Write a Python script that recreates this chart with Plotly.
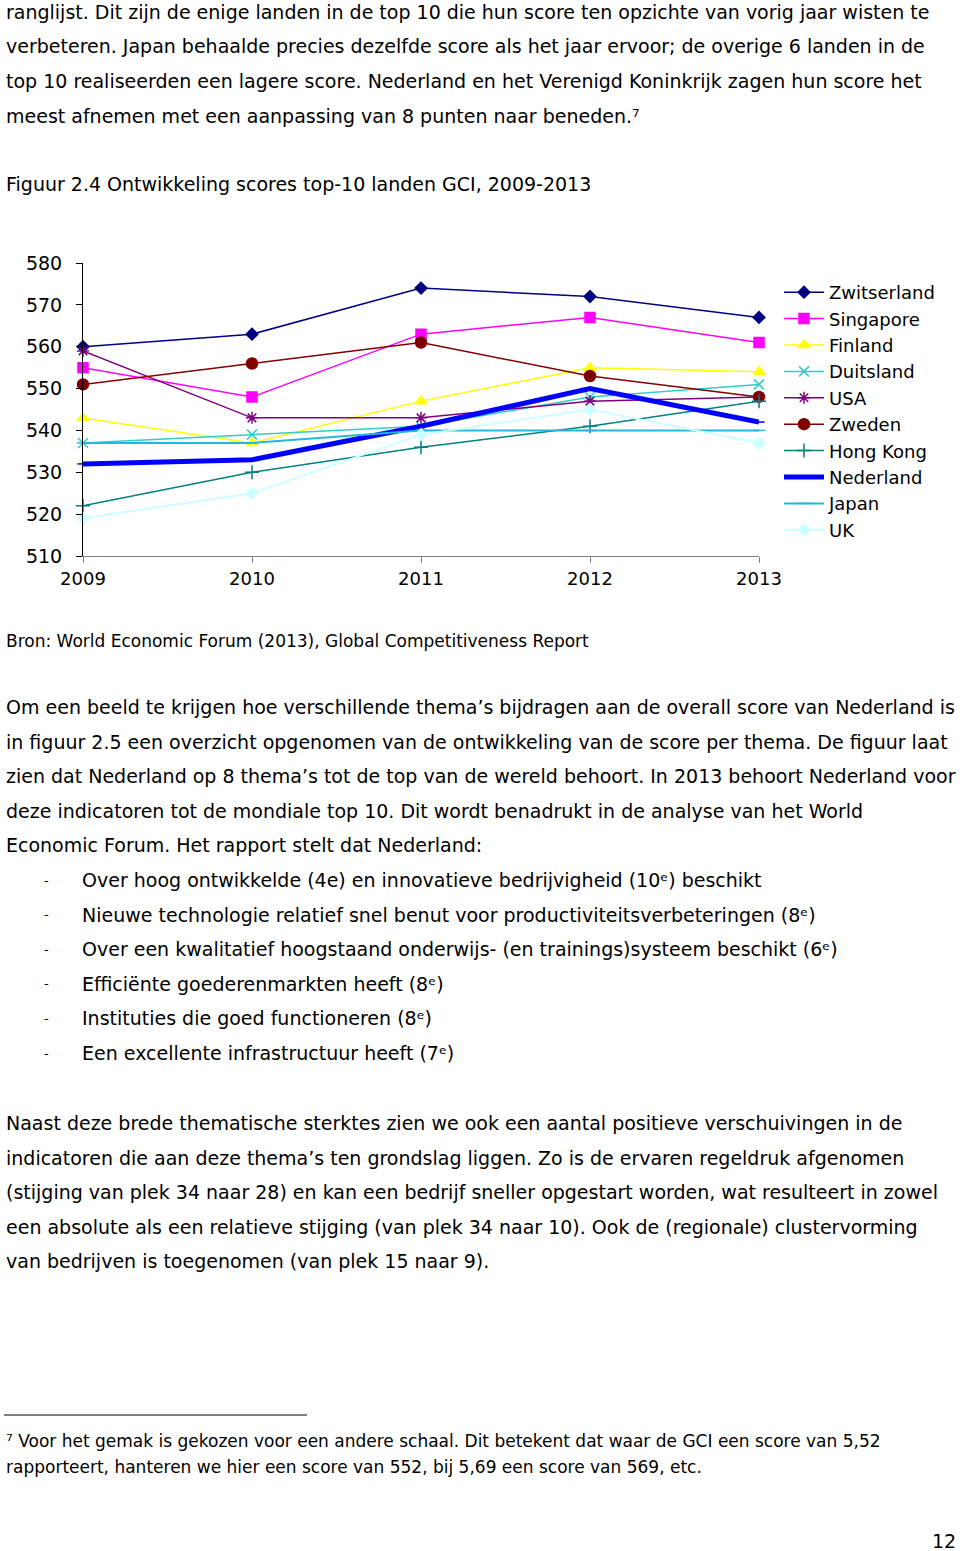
import plotly.graph_objects as go

W, H = 960, 1551

years = [2009, 2010, 2011, 2012, 2013]
countries = ["Zwitserland", "Singapore", "Finland", "Duitsland", "USA",
             "Zweden", "Hong Kong", "Nederland", "Japan", "UK"]
zwitserland = [560, 563, 574, 572, 567]
singapore = [555, 548, 563, 567, 561]
finland = [543, 537, 547, 555, 554]
duitsland = [537, 539, 541, 548, 551]
usa = [559, 543, 543, 547, 548]
zweden = [551, 556, 561, 553, 548]
hongkong = [522, 530, 536, 541, 547]
nederland = [532, 533, 541, 550, 542]
japan = [537, 537, 540, 540, 540]
uk = [519, 525, 539, 545, 537]
y_ticks = [510, 520, 530, 540, 550, 560, 570, 580]

series = [zwitserland, singapore, finland, duitsland, usa,
          zweden, hongkong, nederland, japan, uk]
colors = ["#000080", "#FF00FF", "#FFFF00", "#33CCCC", "#800080",
          "#800000", "#008080", "#0000FF", "#22B8DD", "#CCFFFF"]
symbols = ["diamond", "square", "triangle-up", "x-thin-open", "asterisk-open",
           "circle", "cross-thin-open", "line-ew-open", "line-ew-open", "diamond"]
msizes = [9, 10, 10, 10, 10, 11, 10, 8, 9, 9]
lwidths = [1.5, 1.5, 1.5, 1.5, 1.5, 1.5, 1.5, 5, 2, 2]

fig = go.Figure()
for name, vals, c, s, ms, lw in zip(countries, series, colors, symbols, msizes, lwidths):
    fig.add_trace(go.Scatter(
        x=years, y=vals, name=name, mode="lines+markers", cliponaxis=False,
        line=dict(color=c, width=lw),
        marker=dict(symbol=s, size=ms, color=c, line=dict(color=c, width=1.5)),
    ))

def py(p):
    return 1 - p / H

body = "DejaVu Sans"
fs = 19

annotations = []
def txt(x, y, t, size=fs, anchor="left"):
    annotations.append(dict(x=x / W, y=py(y), xref="paper", yref="paper", text=t,
                            showarrow=False, xanchor=anchor, yanchor="middle",
                            font=dict(family=body, size=size, color="#000000")))

top_lines = [
    "ranglijst. Dit zijn de enige landen in de top 10 die hun score ten opzichte van vorig jaar wisten te",
    "verbeteren. Japan behaalde precies dezelfde score als het jaar ervoor; de overige 6 landen in de",
    "top 10 realiseerden een lagere score. Nederland en het Verenigd Koninkrijk zagen hun score het",
    "meest afnemen met een aanpassing van 8 punten naar beneden.⁷",
]
for i, t in enumerate(top_lines):
    txt(4, 12 + i * 34.5, t)
txt(4, 184, "Figuur 2.4 Ontwikkeling scores top-10 landen GCI, 2009-2013")
txt(4, 641, "Bron: World Economic Forum (2013), Global Competitiveness Report", size=17)

para1 = [
    "Om een beeld te krijgen hoe verschillende thema’s bijdragen aan de overall score van Nederland is",
    "in figuur 2.5 een overzicht opgenomen van de ontwikkeling van de score per thema. De figuur laat",
    "zien dat Nederland op 8 thema’s tot de top van de wereld behoort. In 2013 behoort Nederland voor",
    "deze indicatoren tot de mondiale top 10. Dit wordt benadrukt in de analyse van het World",
    "Economic Forum. Het rapport stelt dat Nederland:",
]
for i, t in enumerate(para1):
    txt(4, 707 + i * 34.6, t)

bullets = [
    "Over hoog ontwikkelde (4e) en innovatieve bedrijvigheid (10ᵉ) beschikt",
    "Nieuwe technologie relatief snel benut voor productiviteitsverbeteringen (8ᵉ)",
    "Over een kwalitatief hoogstaand onderwijs- (en trainings)systeem beschikt (6ᵉ)",
    "Efficiënte goederenmarkten heeft (8ᵉ)",
    "Instituties die goed functioneren (8ᵉ)",
    "Een excellente infrastructuur heeft (7ᵉ)",
]
for i, t in enumerate(bullets):
    txt(42, 880 + i * 34.6, "-", size=13)
    txt(80, 880 + i * 34.6, t)

para2 = [
    "Naast deze brede thematische sterktes zien we ook een aantal positieve verschuivingen in de",
    "indicatoren die aan deze thema’s ten grondslag liggen. Zo is de ervaren regeldruk afgenomen",
    "(stijging van plek 34 naar 28) en kan een bedrijf sneller opgestart worden, wat resulteert in zowel",
    "een absolute als een relatieve stijging (van plek 34 naar 10). Ook de (regionale) clustervorming",
    "van bedrijven is toegenomen (van plek 15 naar 9).",
]
for i, t in enumerate(para2):
    txt(4, 1123 + i * 34.6, t)

txt(4, 1441, "⁷ Voor het gemak is gekozen voor een andere schaal. Dit betekent dat waar de GCI een score van 5,52", size=17)
txt(4, 1467, "rapporteert, hanteren we hier een score van 552, bij 5,69 een score van 569, etc.", size=17)
txt(958, 1541, "12", size=19, anchor="right")

shapes = [dict(type="line", xref="paper", yref="paper", x0=4 / W, x1=307 / W,
               y0=py(1415), y1=py(1415), line=dict(color="#000000", width=1))]

fig.update_layout(
    width=W, height=H,
    margin=dict(l=0, r=0, t=0, b=0, autoexpand=False),
    paper_bgcolor="white", plot_bgcolor="white",
    font=dict(family=body, size=17, color="#000000"),
    annotations=annotations, shapes=shapes,
    showlegend=True,
    legend=dict(x=779 / W, y=py(274), xanchor="left", yanchor="top",
                font=dict(family=body, size=18, color="#000000"),
                itemwidth=40, bgcolor="rgba(0,0,0,0)", tracegroupgap=0,
                traceorder="normal"),
    xaxis=dict(domain=[83 / W, 759 / W], range=[2009, 2013], automargin=False,
               tickmode="array", tickvals=years, ticktext=[str(y) for y in years],
               showgrid=False, zeroline=False, showline=True, linecolor="#808080",
               linewidth=1, ticks="outside", ticklen=6, tickcolor="#808080",
               tickfont=dict(family=body, size=18), fixedrange=True),
    yaxis=dict(domain=[py(556), py(263)], range=[510, 580], automargin=False,
               tickmode="array", tickvals=y_ticks,
               showgrid=False, zeroline=False, showline=True, linecolor="#000000",
               linewidth=1, ticks="outside", ticklen=6, tickcolor="#000000",
               ticklabelstandoff=10,
               tickfont=dict(family=body, size=19), fixedrange=True),
)

fig.write_html("out.html",
               config={"displayModeBar": False, "staticPlot": False},
               post_script="document.body.style.margin='0';document.body.style.overflow='hidden';")
